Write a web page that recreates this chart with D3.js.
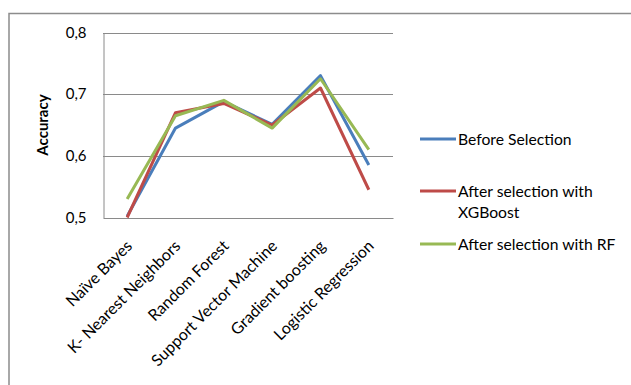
<!DOCTYPE html>
<html>
<head>
<meta charset="utf-8">
<script src="https://cdn.jsdelivr.net/npm/d3@7"></script>
<style>
  html, body { margin: 0; padding: 0; background: #fff; }
  svg { display: block; }
  text { font-family: Lato, "Open Sans", sans-serif; fill: #000; }
</style>
</head>
<body>
<svg id="chart" width="631" height="385"></svg>
<script>
// Classifier names along the x axis
const categories = [
  "Naïve Bayes",
  "K- Nearest Neighbors",
  "Random Forest",
  "Support Vector Machine",
  "Gradient boosting",
  "Logistic Regression"
];

// Accuracy per classifier for each feature-selection setting
const beforeSelection = [0.502, 0.645, 0.688, 0.651, 0.730, 0.585];
const afterXGBoost    = [0.500, 0.670, 0.685, 0.650, 0.710, 0.545];
const afterRF         = [0.530, 0.665, 0.690, 0.645, 0.725, 0.610];

const seriesNames  = ["Before Selection", "After selection with XGBoost", "After selection with RF"];
const yTicks       = [0.5, 0.6, 0.7, 0.8];
const yTickLabels  = ["0,5", "0,6", "0,7", "0,8"];

const series = [
  { name: seriesNames[0], values: beforeSelection, color: "#4A7EBB" },
  { name: seriesNames[1], values: afterXGBoost,    color: "#BE4B48" },
  { name: seriesNames[2], values: afterRF,         color: "#98B954" }
];

const svg = d3.select("#chart");

// Outer chart frame (top and left edges visible)
svg.append("path")
  .attr("d", "M9,640 L9,13.5 L700,13.5")
  .attr("fill", "none")
  .attr("stroke", "#8c8c8c")
  .attr("stroke-width", 1.5);

const plot = { left: 103, top: 32.5, right: 393, bottom: 217.5 };

const x = d3.scaleBand()
  .domain(categories)
  .range([plot.left, plot.right]);

const y = d3.scaleLinear()
  .domain([0.5, 0.8])
  .range([plot.bottom, plot.top]);

// Horizontal gridlines
svg.append("g")
  .selectAll("line")
  .data(yTicks.slice(1))
  .join("line")
  .attr("x1", plot.left).attr("x2", plot.right)
  .attr("y1", d => Math.round(y(d)) + 0.5).attr("y2", d => Math.round(y(d)) + 0.5)
  .attr("stroke", "#8a8a8a").attr("stroke-width", 1);

// Y axis
const yAxis = d3.axisLeft(y)
  .tickValues(yTicks)
  .tickFormat((d, i) => yTickLabels[i])
  .tickSize(0)
  .tickPadding(17);

const gy = svg.append("g")
  .attr("transform", `translate(${plot.left + 0.5},0)`)
  .call(yAxis);
gy.select(".domain").attr("stroke", "#8a8a8a");
gy.selectAll("text").style("font-size", "15px").style("font-family", "Lato, sans-serif");

// X axis
const xAxis = d3.axisBottom(x).tickSize(0).tickPadding(0);
const gx = svg.append("g")
  .attr("transform", `translate(0,${plot.bottom + 0.5})`)
  .call(xAxis);
gx.select(".domain").attr("stroke", "#8a8a8a");
gx.selectAll("text")
  .style("font-size", "16px")
  .style("font-family", "Lato, sans-serif")
  .attr("text-anchor", "end")
  .attr("dy", null)
  .attr("y", 0)
  .attr("transform", "translate(6,29) rotate(-45)");

// Y axis title
svg.append("text")
  .attr("transform", `translate(48,${(plot.top + plot.bottom) / 2}) rotate(-90)`)
  .attr("text-anchor", "middle")
  .style("font-size", "15px")
  .style("font-weight", "bold")
  .text("Accuracy");

// Series lines
const line = d3.line()
  .x((d, i) => x(categories[i]) + x.bandwidth() / 2)
  .y(d => y(d));

svg.append("g")
  .selectAll("path")
  .data(series)
  .join("path")
  .attr("d", d => line(d.values))
  .attr("fill", "none")
  .attr("stroke", d => d.color)
  .attr("stroke-width", 3)
  .attr("stroke-linejoin", "round");

// Legend
const legendItems = [
  { lines: ["Before Selection"], y: 139 },
  { lines: ["After selection with", "XGBoost"], y: 191 },
  { lines: ["After selection with RF"], y: 244 }
];

const legend = svg.append("g");
legendItems.forEach((item, i) => {
  legend.append("line")
    .attr("x1", 420).attr("x2", 456)
    .attr("y1", item.y).attr("y2", item.y)
    .attr("stroke", series[i].color)
    .attr("stroke-width", 3);
  const t = legend.append("text")
    .attr("x", 458)
    .attr("y", item.y + 5.5)
    .style("font-size", "15.7px");
  item.lines.forEach((ln, j) => {
    t.append("tspan")
      .attr("x", 458)
      .attr("dy", j === 0 ? 0 : 21)
      .text(ln);
  });
});
</script>
</body>
</html>
